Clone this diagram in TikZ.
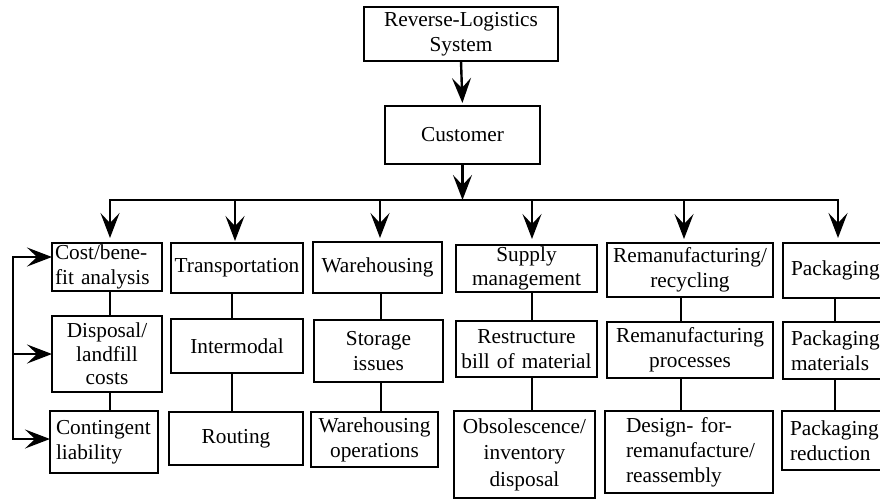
\documentclass[tikz,border=0pt]{standalone}
\usepackage{fontspec}
\setmainfont{Liberation Serif}
\usetikzlibrary{arrows.meta}
\begin{document}
\begin{tikzpicture}[x=1pt,y=-1pt,
  bx/.style 2 args={draw, line width=2.8pt, minimum height=#2, text width=#1,
    inner xsep=0pt, inner ysep=0pt, outer sep=0pt, align=center,
    font=\fontsize{21.3}{25}\selectfont},
  ln/.style={line width=2.4pt},
  arr/.style={line width=2.4pt, -{Stealth[length=25pt,width=19pt,inset=10pt]}}]
\fill[white] (0,0) rectangle (880,499);
\useasboundingbox (0,0) rectangle (880,499);

% top
\node[bx={194pt}{54pt}] (top) at (461,34) {Reverse-Logistics\\System};
\node[bx={155pt}{58pt}] (cust) at (462.5,135) {Customer};

% column 1
\node[bx={104pt}{48pt}, inner xsep=3pt, align=left] (cost) at (107,267) {Cost/bene-\\fit analysis};
\node[bx={110pt}{76pt}, font=\fontsize{21.3}{23.5}\selectfont] (disp) at (107,354) {Disposal/\\landfill\\costs};
\node[bx={96pt}{62pt}, inner xsep=6pt, align=left] (cont) at (104,442) {Contingent\\liability};

% column 2
\node[bx={132pt}{50pt}] (trans) at (237,268) {Transportation};
\node[bx={132pt}{54pt}] (inter) at (237,346) {Intermodal};
\node[bx={134pt}{53pt}] (rout) at (236,438.5) {Routing};

% column 3
\node[bx={129pt}{51pt}] (wh) at (377.5,267.5) {Warehousing};
\node[bx={129pt}{62pt}] (stor) at (378.5,351) {Storage\\issues};
\node[bx={127pt}{55pt}] (whop) at (374.5,439.5) {Warehousing\\operations};

% column 4
\node[bx={141pt}{47pt}, font=\fontsize{21.3}{24}\selectfont] (sup) at (526.5,268.5) {Supply\\management};
\node[bx={141pt}{56pt}] (restr) at (526.5,349) {Restructure\\bill of material};
\node[bx={141pt}{87pt}, font=\fontsize{21.3}{26.5}\selectfont] (obs) at (524.5,454.5) {Obsolescence/\\inventory\\disposal};

% column 5
\node[bx={166pt}{54pt}] (remr) at (690,270) {Remanufacturing/\\recycling};
\node[bx={166pt}{56pt}] (remp) at (690,350) {Remanufacturing\\processes};
\node[bx={126pt}{82pt}, inner xsep=21pt, align=left] (des) at (689,452) {Design- for-\\remanufacture/\\reassembly};

% column 6
\node[bx={87pt}{55pt}, inner xsep=8pt, align=left] (pk) at (834.5,270.5) {Packaging};
\node[bx={87pt}{57pt}, inner xsep=8pt, align=left] (pkm) at (834.5,350.5) {Packaging\\materials};
\node[bx={88pt}{59pt}, inner xsep=8pt, align=left] (pkr) at (834,440.5) {Packaging\\reduction};

% coordinates
\coordinate (busL) at (110,200);
\coordinate (busR) at (838,200);
\coordinate (x1) at (110,0);
\coordinate (x2) at (232,0);
\coordinate (x3) at (381,0);
\coordinate (x4) at (532,0);
\coordinate (x5) at (681,0);
\coordinate (x6) at (835,0);
\coordinate (a1) at (110,200);
\coordinate (a2) at (235,200);
\coordinate (a3) at (380,200);
\coordinate (a4) at (532,200);
\coordinate (a5) at (684,200);
\coordinate (a6) at (838,200);
\coordinate (brT) at (13,257);
\coordinate (brB) at (13,439);

% top arrows
\draw[arr, shorten >=3pt] (top.south) -- (cust.north);
\draw[arr] (cust.south) -- (cust.south |- busL);
\draw[ln, line cap=rect] (busL) -- (busR);

% drop arrows
\draw[arr, shorten >=5pt] (a1) -- (a1 |- cost.north);
\draw[arr, shorten >=2pt] (a2) -- (a2 |- trans.north);
\draw[arr, shorten >=4pt] (a3) -- (a3 |- wh.north);
\draw[arr, shorten >=6pt] (a4) -- (a4 |- sup.north);
\draw[arr, shorten >=4pt] (a5) -- (a5 |- remr.north);
\draw[arr, shorten >=5pt] (a6) -- (a6 |- pk.north);

% vertical connectors
\draw[ln] (cost.south -| x1) -- (disp.north -| x1);
\draw[ln] (disp.south -| x1) -- (cont.north -| x1);
\draw[ln] (trans.south -| x2) -- (inter.north -| x2);
\draw[ln] (inter.south -| x2) -- (rout.north -| x2);
\draw[ln] (wh.south -| x3) -- (stor.north -| x3);
\draw[ln] (stor.south -| x3) -- (whop.north -| x3);
\draw[ln] (sup.south -| x4) -- (restr.north -| x4);
\draw[ln] (restr.south -| x4) -- (obs.north -| x4);
\draw[ln] (remr.south -| x5) -- (remp.north -| x5);
\draw[ln] (remp.south -| x5) -- (des.north -| x5);
\draw[ln] (pk.south -| x6) -- (pkm.north -| x6);
\draw[ln] (pkm.south -| x6) -- (pkr.north -| x6);

% left bracket
\draw[ln, line cap=rect] (brT) -- (brB);
\draw[arr] (brT) -- (cost.west |- brT);
\draw[arr] (brT |- disp.west) -- (disp.west);
\draw[arr] (brB) -- (cont.west |- brB);
\end{tikzpicture}
\end{document}
